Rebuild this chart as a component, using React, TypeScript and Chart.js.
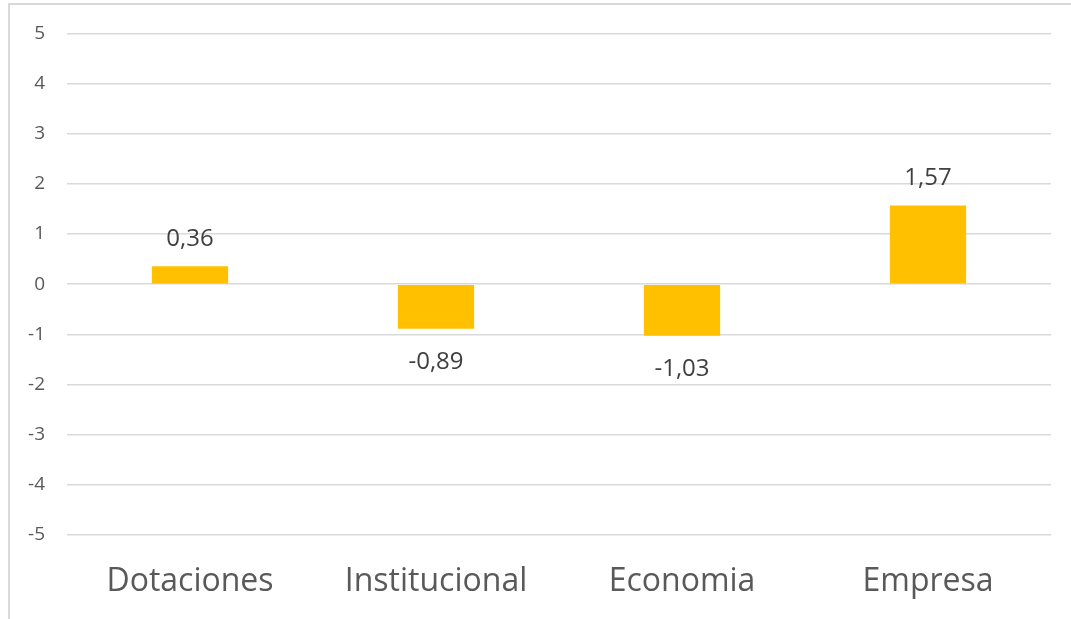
import React, { useEffect, useRef } from "react";
import { Chart, registerables } from "chart.js";

Chart.register(...registerables);

const categories = ["Dotaciones", "Institucional", "Economia", "Empresa"];
const values = [0.36, -0.89, -1.03, 1.57];
const valueLabels = ["0,36", "-0,89", "-1,03", "1,57"];
const yMin = -5;
const yMax = 5;

const FONT = "'Open Sans', 'Noto Sans', sans-serif";

const dataLabelPlugin = {
  id: "dataLabels",
  afterDatasetsDraw(chart: any) {
    const ctx = chart.ctx;
    const meta = chart.getDatasetMeta(0);
    ctx.save();
    ctx.font = `24px ${FONT}`;
    ctx.fillStyle = "#404040";
    ctx.textAlign = "center";
    ctx.textBaseline = "middle";
    meta.data.forEach((bar: any, i: number) => {
      const v = values[i];
      const y = v >= 0 ? bar.y - 27 : bar.y + 33;
      ctx.fillText(valueLabels[i], bar.x, y);
    });
    ctx.restore();
  },
};

export default function App() {
  const ref = useRef<HTMLCanvasElement>(null);
  useEffect(() => {
    if (!ref.current) return;
    const chart = new Chart(ref.current, {
      type: "bar",
      data: {
        labels: categories,
        datasets: [
          {
            data: values,
            backgroundColor: "#FFC000",
            borderWidth: 0,
            categoryPercentage: 1,
            barPercentage: 0.31,
          },
        ],
      },
      options: {
        animation: false,
        responsive: false,
        maintainAspectRatio: false,
        layout: { padding: { top: 33, right: 20, left: 0, bottom: 0 } },
        plugins: { legend: { display: false }, tooltip: { enabled: false }, title: { display: false } },
        scales: {
          x: {
            grid: { display: false, drawTicks: false },
            border: { display: false },
            ticks: {
              color: "#595959",
              font: { family: FONT, size: 32 },
              padding: 28,
              maxRotation: 0,
            },
            afterFit: (s: any) => {
              s.height = 84;
            },
          },
          y: {
            min: yMin,
            max: yMax,
            grid: { color: "#d9d9d9", lineWidth: 1.5, drawTicks: false },
            border: { display: false },
            ticks: {
              stepSize: 1,
              color: "#595959",
              font: { family: FONT, size: 19 },
              padding: 22,
            },
            afterFit: (s: any) => {
              s.width = 67;
            },
          },
        },
      },
      plugins: [dataLabelPlugin],
    });
    return () => chart.destroy();
  }, []);

  return (
    <div style={{ position: "fixed", left: 0, top: 0, width: 1071, height: 619, background: "#fff" }}>
      <div
        style={{
          position: "absolute",
          left: 8,
          top: 3,
          right: 0,
          bottom: 0,
          borderLeft: "2px solid #d9d9d9",
          borderTop: "2px solid #d9d9d9",
        }}
      />
      <canvas ref={ref} width={1071} height={619} style={{ position: "absolute", left: 0, top: 0 }} />
    </div>
  );
}
